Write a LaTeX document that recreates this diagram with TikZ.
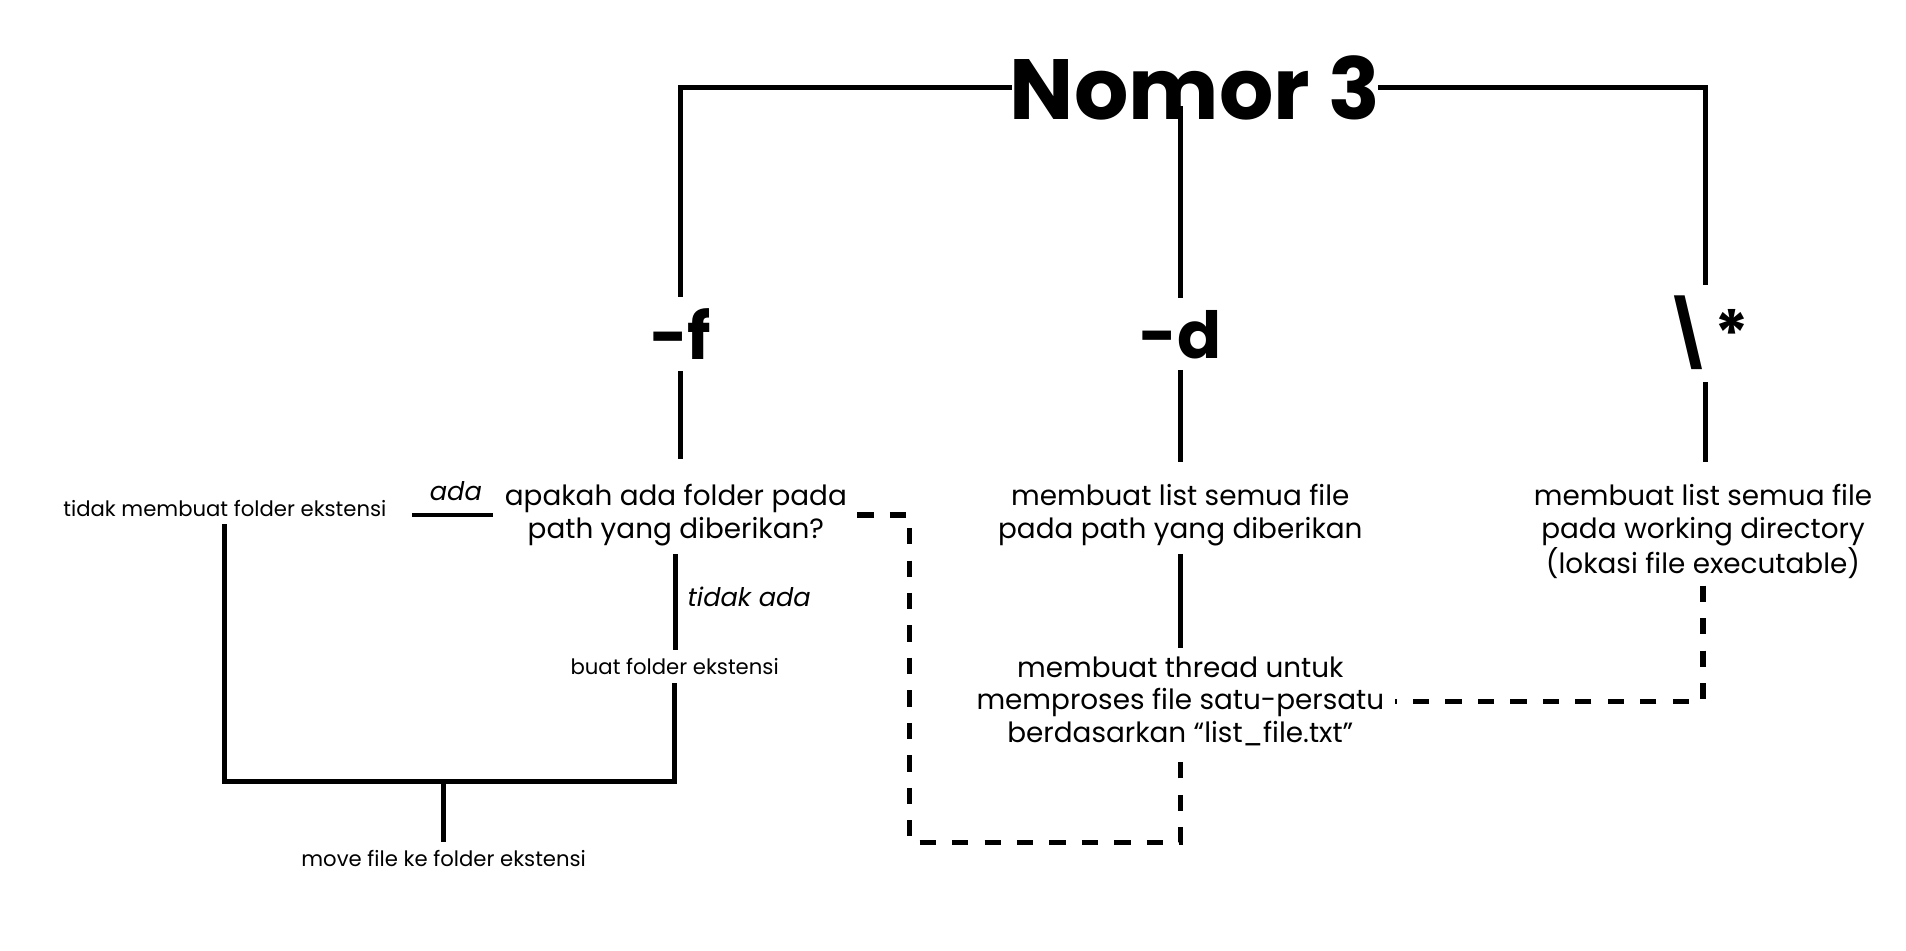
\documentclass[tikz,border=0pt]{standalone}
\usepackage{fontspec}
\setmainfont{Poppins}
\usetikzlibrary{positioning}

\begin{document}
\begin{tikzpicture}[line cap=rect,line join=miter,x=1.0cm,y=1.0cm,
		ln/.style={line width=2.8pt},
		dsh/.style={line width=3.2pt,dash pattern=on 9.5pt off 9.5pt,line cap=butt},
		ttl/.style={font=\fontsize{50}{60}\selectfont\bfseries,inner sep=0pt},
		opt/.style={font=\fontsize{38}{46}\selectfont\bfseries,inner sep=8pt},
		txt/.style={font=\fontsize{16.3}{19.2}\selectfont,align=center,inner sep=6pt},
		sml/.style={font=\fontsize{12.4}{14}\selectfont,align=center,inner sep=6pt},
		lbl/.style={font=\fontsize{15}{18}\selectfont\itshape,inner sep=1pt}]
		\useasboundingbox (0,0) rectangle (39.2,-19.55);
		% judul dan opsi
		\node[ttl] (title) at (24.575,-1.8) {Nomor 3};
		\node[opt] (optf) at (14.0,-6.875) {-f};
		\node[opt] (optd) at (24.275,-6.875) {-d};
		\node[opt] (optstar) at (35.075,-6.85) {\textbackslash*};
		% kotak teks
		\node[txt] (q) at (13.9,-10.59) {apakah ada folder pada\\path yang diberikan?};
		\node[txt] (ls1) at (24.275,-10.59) {membuat list semua file\\pada path yang diberikan};
		\node[txt] (ls2) at (35.025,-10.925) {membuat list semua file\\pada working directory\\(lokasi file executable)};
		\node[sml] (noext) at (4.625,-10.45) {tidak membuat folder ekstensi};
		\node[sml] (mkdir) at (13.875,-13.7) {buat folder ekstensi};
		\node[txt] (thread) at (24.275,-14.425) {membuat thread untuk\\memproses file satu-persatu\\berdasarkan “list\_file.txt”};
		\node[sml] (move) at (9.125,-17.65) {move file ke folder ekstensi};
		\node[lbl] (ada) at (9.375,-10.1) {ada};
		\node[lbl,anchor=west] (tdkada) at (14.1,-12.275) {tidak ada};
		\coordinate (join) at (9.125,-16.075);
		\coordinate (qd) at (18.7,-17.325);
		\path (title.south -| optd.north) coordinate (dtop);
		% garis
		\draw[ln] (title.west) -| (optf.north);
		\draw[ln] (title.east) -| (optstar.north);
		\draw[ln] ([yshift=7pt]dtop) -- (optd.north);
		\draw[ln] (optf.south) -- ([yshift=10pt]optf.south |- q.north);
		\draw[ln] (optd.south) -- ([yshift=8pt]ls1.north);
		\draw[ln] (optstar.south) -- ([yshift=8pt]optstar.south |- ls2.north);
		\draw[ln] (ls1.south) -- (thread.north);
		\draw[ln,shorten <=10pt,shorten >=2pt] (noext.east |- q.west) -- (q.west);
		\draw[ln] (q.south) -- (q.south |- mkdir.north);
		\draw[ln] (noext.south) -- (noext.south |- join) -- (mkdir.south |- join) -- (mkdir.south);
		\draw[ln] (join) -- (move.north);
		\draw[dsh] (q.east) -| (qd) -| (thread.south);
		\draw[dsh] ([yshift=2pt]ls2.south) |- (thread.east);
\end{tikzpicture}
\end{document}
